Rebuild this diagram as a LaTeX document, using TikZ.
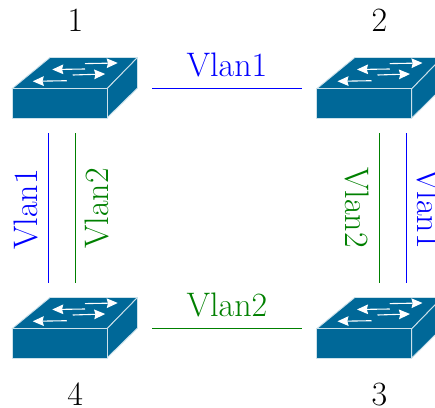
\documentclass[tikz,border=0pt]{standalone}
\usetikzlibrary{arrows.meta,calc}
\definecolor{swblue}{HTML}{006898}
\definecolor{vlanblue}{RGB}{0,0,255}
\definecolor{vlangreen}{RGB}{0,128,0}
\tikzset{
  swbox/.style={minimum width=77.25pt,minimum height=45pt,inner sep=0pt,outer sep=0pt},
  swface/.style={fill=swblue,draw=white!80!swblue,line width=0.45pt,line join=round},
  swarrow/.style={draw=white,line width=0.55pt,-{Stealth[length=5.5pt,width=4.8pt,inset=0.6pt]}},
  lbl/.style={font=\fontsize{17}{20}\selectfont,inner sep=0pt,anchor=base},
  bluetxt/.style={lbl,text=vlanblue},
  greentxt/.style={lbl,text=vlangreen},
  bluelink/.style={draw=vlanblue,line width=0.4pt},
  greenlink/.style={draw=vlangreen,line width=0.4pt}
}
\newcommand{\netswitch}[3]{%
  \node[swbox] (#1) at (#2,#3) {};
  \begin{scope}[shift={(#2,#3)}]
    \path[swface] (-62.75,0.75) -- (-24.75,-30.5) -- (62.75,-30.5) -- (32.25,0.75) -- cycle;
    \path[swface] (32.25,0.75) -- (62.75,-30.5) -- (62.75,0) -- (32.25,30) -- cycle;
    \path[swface] (-62.75,0.75) rectangle (32.25,30);
    \draw[swarrow] (10.25,-24.4) -- (43,-25);
    \draw[swarrow] (10.25,-19) -- (-22.5,-18.5);
    \draw[swarrow] (-2,-13) -- (30.5,-14);
    \draw[swarrow] (-8,-7.3) -- (-42,-6.7);
  \end{scope}
}
\begin{document}
\begin{tikzpicture}[x=0.5pt,y=-0.5pt]
  \useasboundingbox (0,0) rectangle (435,408);
  \clip (0,0) rectangle (435,408);
  \netswitch{sw1}{74.75}{88}
  \netswitch{sw2}{379.5}{88}
  \netswitch{sw3}{379.5}{328}
  \netswitch{sw4}{74.75}{328}
  \node[lbl] (n1) at (75.5,31.7) {1};
  \node[lbl] (n2) at (379.5,31.7) {2};
  \node[lbl] (n3) at (379.5,405.2) {3};
  \node[lbl] (n4) at (75.2,405.7) {4};
  \draw[bluelink] (sw1.east) -- (sw2.west);
  \draw[greenlink] (sw4.east) -- (sw3.west);
  \draw[bluelink] ($(sw1.south)+(-26,0)$) -- ($(sw4.north)+(-26,0)$);
  \draw[greenlink] ($(sw1.south)+(0.25,0)$) -- ($(sw4.north)+(0.25,0)$);
  \draw[greenlink] (sw2.south) -- (sw3.north);
  \draw[bluelink] ($(sw2.south)+(26.5,0)$) -- ($(sw3.north)+(26.5,0)$);
  \node[bluetxt] (t12) at (227,76.7) {Vlan1};
  \node[greentxt] (t43) at (227,316.7) {Vlan2};
  \node[bluetxt,rotate=90] (t14) at (37.7,209.5) {Vlan1};
  \node[greentxt,rotate=90] (t14b) at (109,208.5) {Vlan2};
  \node[greentxt,rotate=-90] (t23) at (345,207.5) {Vlan2};
  \node[bluetxt,rotate=-90] (t23b) at (417,208.5) {Vlan1};
\end{tikzpicture}
\end{document}
